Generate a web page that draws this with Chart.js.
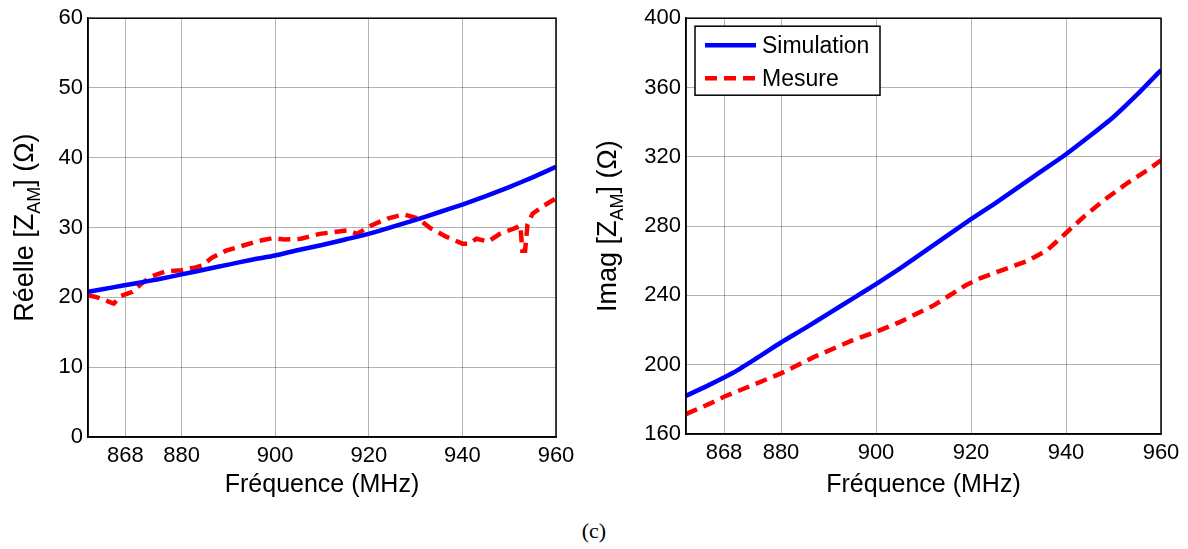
<!DOCTYPE html>
<html>
<head>
<meta charset="utf-8">
<script src="https://cdn.jsdelivr.net/npm/chart.js@4.4.1/dist/chart.umd.min.js"></script>
<style>
  html, body { margin: 0; padding: 0; background: #fff; }
  #wrap { position: relative; width: 1188px; height: 549px; overflow: hidden; }
  canvas { position: absolute; top: 0; }
  #reChart { left: 0; }
  #imChart { left: 594px; }
  #caption {
    position: absolute; left: 0; width: 1188px; top: 518px;
    text-align: center; font-family: 'Liberation Serif', serif; font-size: 22px; color: #000;
  }
</style>
</head>
<body>
<div id="wrap">
  <canvas id="reChart" width="594" height="500"></canvas>
  <canvas id="imChart" width="594" height="500"></canvas>
  <div id="caption">(c)</div>
</div>
<script>
// x ticks shared by both plots (MHz)
const X_TICKS = [868, 880, 900, 920, 940, 960];
const RE_TICKS = [0, 10, 20, 30, 40, 50, 60];
const IM_TICKS = [160, 200, 240, 280, 320, 360, 400];

const SERIES_LABELS = ['Simulation', 'Mesure'];

// simulation: sampled every 5 MHz
const SIM_FREQ = [860, 865, 870, 875, 880, 885, 890, 895, 900, 905, 910,
  915, 920, 925, 930, 935, 940, 945, 950, 955, 960];
const RE_SIM = [20.8, 21.4, 22.0, 22.6, 23.3, 24.0, 24.7, 25.4, 26.0, 26.8, 27.5,
  28.3, 29.1, 30.1, 31.1, 32.2, 33.3, 34.5, 35.8, 37.2, 38.7];
const IM_SIM = [182, 188.5, 195.5, 204, 212.8, 221, 229.5, 238, 246.5, 255.5, 265,
  274.5, 284, 293, 302.5, 312, 321.5, 332, 343, 356, 370];

// measurement, real part
const RE_MES_FREQ = [860, 862, 864, 865.5, 867, 869.5, 871.5, 873.5, 876.5, 880,
  883, 884.5, 886.5, 889.5, 893, 896.5, 899.5, 902, 905.5, 909.5,
  915.5, 917.5, 920.5, 924, 927.5, 930.5, 933, 936.5, 940, 941.5,
  943, 945.5, 948, 951.5, 952.4, 952.8, 953.4, 953.9, 955, 957.3, 960];
const RE_MES = [20.3, 20.0, 19.5, 19.1, 20.2, 20.8, 22.0, 23.0, 23.7, 23.9,
  24.3, 24.6, 25.7, 26.7, 27.4, 28.1, 28.5, 28.3, 28.4, 29.1,
  29.6, 29.1, 30.3, 31.3, 31.9, 31.3, 30.0, 28.7, 27.7, 27.7,
  28.4, 28.0, 29.1, 30.0, 30.3, 26.7, 26.7, 30.4, 32.0, 33.1, 34.2];

// measurement, imaginary part
const IM_MES_FREQ = [860, 865, 868, 874, 880, 887, 895, 900, 905, 912,
  919, 922, 928, 932, 936, 940, 944, 948, 953, 957, 960];
const IM_MES = [171.5, 177.5, 181.5, 188.2, 195, 204.5, 214, 219, 224.6, 234,
  246, 250, 256, 260, 266, 276, 286, 295, 305, 312, 318];

const FONT = 'Liberation Sans, Arial, sans-serif';

function pts(xs, ys) {
  return xs.map((x, i) => ({ x: x, y: ys[i] }));
}

// black box around the plot area
const framePlugin = {
  id: 'frame',
  afterDraw(chart) {
    const a = chart.chartArea;
    const ctx = chart.ctx;
    ctx.save();
    ctx.strokeStyle = '#000';
    ctx.lineWidth = 1.5;
    ctx.strokeRect(a.left, a.top, a.right - a.left, a.bottom - a.top);
    ctx.restore();
  },
};

// rotated y title with a subscript
const yTitlePlugin = {
  id: 'yTitle',
  afterDraw(chart, args, opts) {
    const ctx = chart.ctx;
    const a = chart.chartArea;
    const big = '27px ' + FONT;
    const small = '18px ' + FONT;
    ctx.save();
    ctx.font = big;
    const w1 = ctx.measureText(opts.main).width;
    const w3 = ctx.measureText(opts.tail).width;
    ctx.font = small;
    const w2 = ctx.measureText(opts.sub).width;
    const total = w1 + w2 + w3;
    ctx.translate(opts.x, (a.top + a.bottom) / 2);
    ctx.rotate(-Math.PI / 2);
    ctx.fillStyle = '#000';
    ctx.textBaseline = 'alphabetic';
    ctx.textAlign = 'left';
    let x = -total / 2;
    ctx.font = big;
    ctx.fillText(opts.main, x, 0);
    x += w1;
    ctx.font = small;
    ctx.fillText(opts.sub, x, 7);
    x += w2;
    ctx.font = big;
    ctx.fillText(opts.tail, x, 0);
    ctx.restore();
  },
};

// boxed legend inside the plot, upper left
const boxLegendPlugin = {
  id: 'boxLegend',
  afterDraw(chart, args, opts) {
    if (!opts.show) return;
    const ctx = chart.ctx;
    const a = chart.chartArea;
    const bx = a.left + 9, by = a.top + 8, bw = 185, bh = 69;
    ctx.save();
    ctx.fillStyle = '#fff';
    ctx.fillRect(bx, by, bw, bh);
    ctx.strokeStyle = '#000';
    ctx.lineWidth = 1.5;
    ctx.strokeRect(bx, by, bw, bh);
    ctx.font = '23px ' + FONT;
    ctx.textBaseline = 'middle';
    chart.data.datasets.forEach((ds, i) => {
      const cy = by + 19 + i * 33;
      ctx.strokeStyle = ds.borderColor;
      ctx.lineWidth = ds.borderWidth;
      ctx.setLineDash(ds.borderDash || []);
      ctx.beginPath();
      ctx.moveTo(bx + 10, cy);
      ctx.lineTo(bx + 61, cy);
      ctx.stroke();
      ctx.setLineDash([]);
      ctx.fillStyle = '#000';
      ctx.fillText(ds.label, bx + 67, cy + 1);
    });
    ctx.restore();
  },
};

function makeChart(id, cfg) {
  const ctx = document.getElementById(id).getContext('2d');
  return new Chart(ctx, {
    type: 'line',
    data: {
      datasets: [
        {
          label: SERIES_LABELS[0],
          data: pts(SIM_FREQ, cfg.sim),
          borderColor: '#0000ff',
          borderWidth: 4.5,
          pointRadius: 0,
          tension: 0.2,
        },
        {
          label: SERIES_LABELS[1],
          data: pts(cfg.mesFreq, cfg.mes),
          borderColor: '#ff0000',
          borderWidth: 4.5,
          borderDash: [12, 7],
          pointRadius: 0,
          tension: 0,
        },
      ],
    },
    options: {
      responsive: false,
      animation: false,
      layout: { padding: { left: 0, right: cfg.padRight, top: 17, bottom: 0 } },
      plugins: {
        legend: { display: false },
        tooltip: { enabled: false },
        yTitle: cfg.yTitle,
        boxLegend: { show: cfg.legend },
      },
      scales: {
        x: {
          type: 'linear',
          min: 860,
          max: 960,
          afterBuildTicks(axis) { axis.ticks = X_TICKS.map((v) => ({ value: v })); },
          afterFit(scale) { scale.height = cfg.xAxisH; },
          grid: { color: 'rgba(0,0,0,0.3)', lineWidth: 1, drawTicks: false },
          border: { display: true, color: '#000', width: 1.5 },
          ticks: {
            color: '#000',
            padding: 6,
            maxRotation: 0,
            autoSkip: false,
            font: { family: FONT, size: 22 },
          },
          title: {
            display: true,
            text: 'Fréquence (MHz)',
            color: '#000',
            font: { family: FONT, size: 25 },
            padding: { top: 0, bottom: 0 },
          },
        },
        y: {
          min: cfg.ticks[0],
          max: cfg.ticks[cfg.ticks.length - 1],
          afterBuildTicks(axis) { axis.ticks = cfg.ticks.map((v) => ({ value: v })); },
          afterFit(scale) { scale.width = cfg.yAxisW; },
          grid: { color: 'rgba(0,0,0,0.3)', lineWidth: 1, drawTicks: false },
          border: { display: true, color: '#000', width: 1.5 },
          ticks: {
            color: '#000',
            padding: 5,
            autoSkip: false,
            font: { family: FONT, size: 22 },
          },
        },
      },
    },
    plugins: [framePlugin, yTitlePlugin, boxLegendPlugin],
  });
}

makeChart('reChart', {
  sim: RE_SIM,
  mesFreq: RE_MES_FREQ,
  mes: RE_MES,
  ticks: RE_TICKS,
  yAxisW: 88,
  xAxisH: 63,
  padRight: 38,
  legend: false,
  yTitle: { main: 'Réelle [Z', sub: 'AM', tail: '] (Ω)', x: 33 },
});

makeChart('imChart', {
  sim: IM_SIM,
  mesFreq: IM_MES_FREQ,
  mes: IM_MES,
  ticks: IM_TICKS,
  yAxisW: 92,
  xAxisH: 66,
  padRight: 27,
  legend: true,
  yTitle: { main: 'Imag [Z', sub: 'AM', tail: '] (Ω)', x: 22 },
});
</script>
</body>
</html>
